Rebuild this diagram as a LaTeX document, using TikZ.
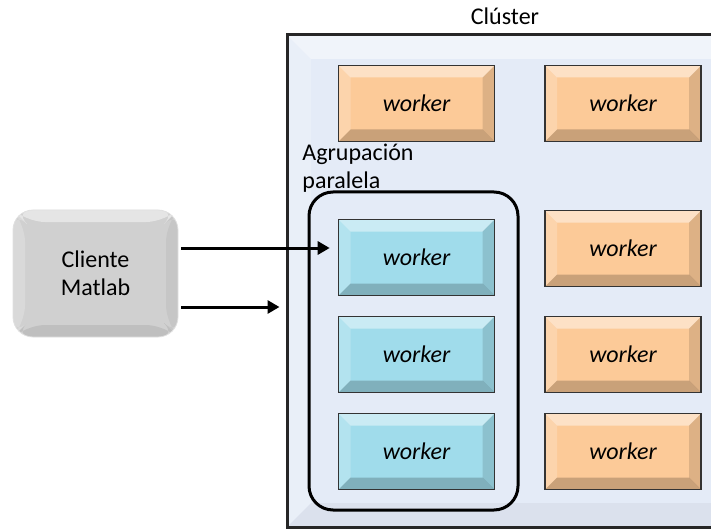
\documentclass[tikz,border=0pt]{standalone}
\usepackage{fontspec}
\setmainfont{Carlito}
\usetikzlibrary{arrows.meta}
\definecolor{orangew}{RGB}{252,202,152}
\definecolor{bluew}{RGB}{160,220,235}
\definecolor{clusterbg}{RGB}{228,235,247}
\definecolor{clientgray}{RGB}{208,208,208}
\newcommand\bevelshade{0.2}
\begin{document}
\begin{tikzpicture}[x=0.5pt,y=-0.5pt,
  shade depth/.code={\renewcommand\bevelshade{#1}},
  bevel/.style={path picture={
    \fill[white,opacity=0.45] (path picture bounding box.north west) -- (path picture bounding box.north east)
      -- ([shift={(-#1,-#1)}]path picture bounding box.north east) -- ([shift={(#1,-#1)}]path picture bounding box.north west) -- cycle;
    \fill[white,opacity=0.2] (path picture bounding box.north west) -- (path picture bounding box.south west)
      -- ([shift={(#1,#1)}]path picture bounding box.south west) -- ([shift={(#1,-#1)}]path picture bounding box.north west) -- cycle;
    \fill[black,opacity=0.6*\bevelshade] (path picture bounding box.north east) -- (path picture bounding box.south east)
      -- ([shift={(-#1,#1)}]path picture bounding box.south east) -- ([shift={(-#1,-#1)}]path picture bounding box.north east) -- cycle;
    \fill[black,opacity=\bevelshade] (path picture bounding box.south west) -- (path picture bounding box.south east)
      -- ([shift={(-#1,#1)}]path picture bounding box.south east) -- ([shift={(#1,#1)}]path picture bounding box.south west) -- cycle;
  }},
  txt/.style={font=\fontsize{12}{14}\selectfont},
  worker/.style={draw=black!80, line width=0.8pt, minimum width=78pt, minimum height=38pt,
    inner sep=0pt, txt, font=\fontsize{12}{14}\selectfont\itshape, bevel=6pt},
  orange/.style={worker, fill=orangew},
  blue/.style={worker, fill=bluew},
  arr/.style={line width=1.5pt, -{Triangle[length=6pt,width=6.5pt]}}]
\useasboundingbox (0,0) rectangle (711,529);
\clip (0,0) rectangle (711,529);
% cluster and parallel pool
\node[draw=black!85, line width=1.5pt, fill=clusterbg, shade depth=0.04, bevel=12pt,
  minimum width=226.5pt, minimum height=246pt] (cluster) at (513.5,281) {};
\node[txt] (clustername) at (505,16) {Clúster};
\node[draw, line width=1.5pt, rounded corners=12pt, minimum width=104.5pt, minimum height=159pt] (pool) at (413.5,351) {};
\node[txt, align=left, anchor=north west, inner sep=0pt] (poolname) at (302,144) {Agrupación\\paralela};
% workers
\node[orange] (w1) at (416.5,103.5) {worker};
\node[orange] (w2) at (623,103.5) {worker};
\node[blue] (p1) at (416.5,257.5) {worker};
\node[blue] (p2) at (416.5,354.5) {worker};
\node[blue] (p3) at (416.5,451.5) {worker};
\node[orange] (w3) at (623,248.5) {worker};
\node[orange] (w4) at (623,354.5) {worker};
\node[orange] (w5) at (623,451.5) {worker};
% client
\node[draw=black!12, fill=clientgray, rounded corners=10pt, shade depth=0.08, bevel=6pt,
  minimum width=82.5pt, minimum height=63.5pt, txt, align=center] (client) at (95.5,273.5) {Cliente\\Matlab};
\draw[arr] ([xshift=1.5pt]client.east |- 0,248) -- ([xshift=-4pt]p1.west |- 0,248);
\draw[arr] ([xshift=1.5pt]client.east |- 0,307) -- ([xshift=-3pt]cluster.west |- 0,307);
\end{tikzpicture}
\end{document}
